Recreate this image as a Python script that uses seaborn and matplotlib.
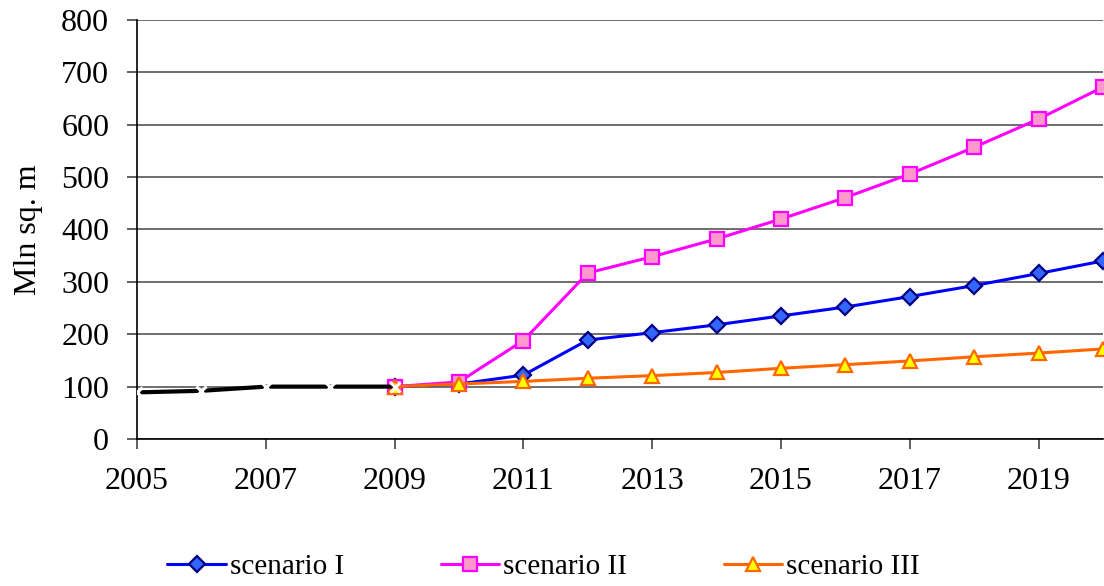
import matplotlib
matplotlib.use("Agg")
import matplotlib.pyplot as plt
import seaborn as sns

# Floor space, million square metres
hist_years = [2005, 2006, 2007, 2008, 2009]
hist_values = [89, 92, 100, 100, 100]

years = [2009, 2010, 2011, 2012, 2013, 2014, 2015, 2016, 2017, 2018, 2019, 2020]
scenario_1 = [100, 105, 122, 189, 203, 218, 235, 252, 272, 293, 316, 340]
scenario_2 = [100, 109, 188, 317, 348, 382, 420, 461, 506, 557, 611, 672]
scenario_3 = [100, 105, 110, 116, 121, 127, 135, 142, 149, 157, 164, 172]

x_ticks = list(range(2005, 2021, 2))
y_ticks = list(range(0, 801, 100))

sns.set_theme(style="white")
plt.rcParams["font.family"] = ["Liberation Serif", "DejaVu Serif"]
plt.rcParams["text.color"] = "black"
plt.rcParams["axes.labelcolor"] = "black"
plt.rcParams["xtick.color"] = "black"
plt.rcParams["ytick.color"] = "black"

fig = plt.figure(figsize=(11.04, 5.86), dpi=100)
ax = fig.add_axes([137 / 1104, 1 - 439 / 586, (1103 - 137) / 1104, (439 - 20) / 586])

ax.set_axisbelow(True)
ax.yaxis.grid(True, color="#555555", linewidth=1.2)
ax.xaxis.grid(False)

sns.lineplot(x=hist_years, y=hist_values, ax=ax, color="black", linewidth=3,
             marker="x", markersize=7, markeredgecolor="white",
             markeredgewidth=2.2, legend=False, zorder=5)

series = [
    ("scenario I", scenario_1, "#0000FF", "D", "#3366FF", "#000080", 8),
    ("scenario II", scenario_2, "#FF00FF", "s", "#FF99CC", "#FF00FF", 10),
    ("scenario III", scenario_3, "#FF6600", "^", "#FFFF00", "#FF6600", 10),
]
for name, vals, lc, mk, mfc, mec, ms in series:
    sns.lineplot(x=years, y=vals, ax=ax, color=lc, linewidth=2.2, marker=mk,
                 markersize=ms, markerfacecolor=mfc, markeredgecolor=mec,
                 markeredgewidth=1.6, label=name, zorder=4)

ax.set_xlim(2005, 2020)
ax.set_ylim(0, 800)
ax.set_xticks(x_ticks)
ax.set_yticks(y_ticks)
ax.tick_params(axis="both", labelsize=23, direction="out", length=7,
               width=1.2, left=True, bottom=True)
ax.tick_params(axis="y", pad=13)
ax.tick_params(axis="x", pad=13)
ax.tick_params(axis="both", color="#444444", labelcolor="black")
ax.set_ylabel("Mln sq. m", fontsize=23, labelpad=13, color="black")
ax.set_xlabel("")

for side in ["top", "right"]:
    ax.spines[side].set_visible(False)
for side in ["left", "bottom"]:
    ax.spines[side].set_color("black")
    ax.spines[side].set_linewidth(1.2)

ax.legend(loc="center", bbox_to_anchor=(0.421, -0.305), ncol=3,
          frameon=False, fontsize=21, handlelength=2.0,
          columnspacing=3.3, handletextpad=0.15)

fig.savefig("out.png", dpi=100)
